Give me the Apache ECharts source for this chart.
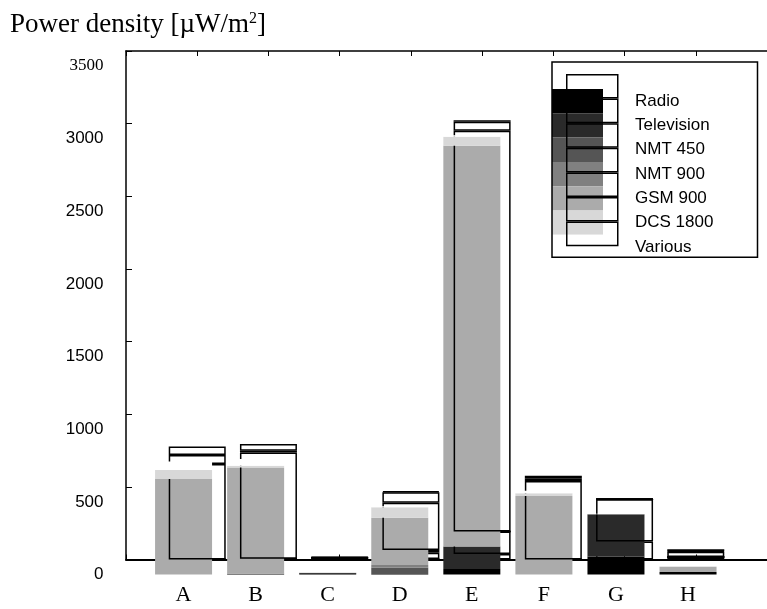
<!DOCTYPE html>
<html>
<head>
<meta charset="utf-8">
<title>Power density</title>
<script src="https://cdn.jsdelivr.net/npm/echarts@6/dist/echarts.min.js"></script>
<style>
    html, body { margin: 0; padding: 0; background: #fff; }
    #main { width: 767px; height: 609px; }
</style>
</head>
<body>
<div id="main"></div>
<script>
    // measurement sites and radio sources
    var sites = ['A', 'B', 'C', 'D', 'E', 'F', 'G', 'H'];
    var sources = ['Radio', 'Television', 'NMT 450', 'NMT 900', 'GSM 900', 'DCS 1800', 'Various'];
    var shades = ['#000000', '#2a2a2a', '#555555', '#808080', '#ababab', '#d8d8d8', '#ffffff'];

    // power density per source, one value per site A..H  [µW/m2]
    var radio      = [0,   5,   8, 3,   38,   0,   124, 17];
    var television = [0,   0,   2, 0,   154,  0,   290, 0];
    var nmt450     = [0,   0,   0, 44,  0,    0,   0,   0];
    var nmt900     = [0,   0,   0, 18,  0,    0,   0,   0];
    var gsm900     = [657, 732, 4, 326, 2759, 541, 0,   36];
    var dcs1800    = [62,  12,  0, 72,  62,   18,  0,   3];
    var various    = [59,  46,  4, 7,   11,   17,  5,   14];

    var yMax = 3500, yStep = 500;

    var values = [radio, television, nmt450, nmt900, gsm900, dcs1800, various];
    // empty slot before A and after H
    var cats = [''].concat(sites).concat(['']);

    var chart = echarts.init(document.getElementById('main'));

    var series = [];
    sources.forEach(function (name, i) {
        var d = ['-'].concat(values[i]).concat(['-']);
        // filled block (shifted layer)
        series.push({
            name: name,
            type: 'bar',
            stack: 'fill',
            xAxisIndex: 2,
            yAxisIndex: 1,
            barWidth: 57,
            z: 2 * i + 2,
            itemStyle: { color: shades[i] },
            emphasis: { disabled: true },
            data: d
        });
        // outlined block (frame layer)
        series.push({
            name: name + ' ',
            type: 'bar',
            stack: 'outline',
            xAxisIndex: 0,
            yAxisIndex: 0,
            barWidth: 57,
            z: 2 * i + 3,
            itemStyle: { color: 'rgba(0,0,0,0)', borderColor: '#000', borderWidth: 1.5 },
            emphasis: { disabled: true },
            data: d
        });
    });

    var option = {
        animation: false,
        title: {
            text: 'Power density [µW/m{sup|2}]',
            left: 10,
            top: 11,
            padding: 0,
            textStyle: {
                fontFamily: 'Liberation Serif', fontSize: 27, fontWeight: 'normal', color: '#000',
                rich: { sup: { fontFamily: 'Liberation Serif', fontSize: 16, color: '#000', verticalAlign: 'top', padding: [0, 0, 12, 0] } }
            }
        },
        legend: [{
            data: sources,
            orient: 'vertical',
            left: 552,
            top: 89,
            padding: 0,
            itemGap: 0,
            itemWidth: 51,
            itemHeight: 24.3,
            icon: 'rect',
            selectedMode: false,
            z: 4,
            textStyle: { fontFamily: 'Liberation Sans', fontSize: 17, color: '#000', padding: [0, 0, 0, 27] }
        }, {
            data: sources.map(function (n) { return n + ' '; }),
            orient: 'vertical',
            left: 552,
            top: 62,
            padding: [12, 139, 11, 14],
            itemGap: 0,
            itemWidth: 51,
            itemHeight: 23.1,
            icon: 'rect',
            selectedMode: false,
            z: 5,
            borderColor: '#000',
            borderWidth: 1.5,
            formatter: function () { return ''; },
            itemStyle: { color: 'rgba(0,0,0,0)', borderColor: '#000', borderWidth: 1.5 }
        }],
        grid: [
            { left: 126, top: 51, width: 648.6, height: 508.5 },
            { left: 111.5, top: 66, width: 648.6, height: 508.5 }
        ],
        xAxis: [{
            type: 'category', gridIndex: 0, data: cats, boundaryGap: false,
            axisLine: { onZero: false, lineStyle: { color: '#000', width: 2 } },
            axisTick: { inside: true, length: 5, lineStyle: { color: '#000' } },
            axisLabel: { show: false }
        }, {
            type: 'category', gridIndex: 0, data: cats, boundaryGap: false, position: 'top',
            axisLine: { onZero: false, lineStyle: { color: '#000', width: 1.5 } },
            axisTick: { inside: true, length: 5, lineStyle: { color: '#000' } },
            axisLabel: { show: false }
        }, {
            type: 'category', gridIndex: 1, data: cats, boundaryGap: false,
            axisLine: { show: false },
            axisTick: { show: false },
            axisLabel: { margin: 10, fontFamily: 'Liberation Serif', fontSize: 22, color: '#000' }
        }],
        yAxis: [{
            type: 'value', gridIndex: 0, min: 0, max: yMax, interval: yStep,
            axisLine: { show: true, lineStyle: { color: '#000', width: 1.5 } },
            axisTick: { show: true, inside: true, length: 6, lineStyle: { color: '#000' } },
            axisLabel: { show: false },
            splitLine: { show: false }
        }, {
            type: 'value', gridIndex: 1, min: 0, max: yMax, interval: yStep,
            axisLine: { show: false },
            axisTick: { show: false },
            splitLine: { show: false },
            axisLabel: {
                margin: 8, fontFamily: 'Liberation Sans', fontSize: 17, color: '#000',
                formatter: function (v) { return v === yMax ? '{s|' + v + '}' : '' + v; },
                rich: { s: { fontFamily: 'Liberation Serif', fontSize: 17, color: '#000' } }
            }
        }],
        series: series
    };

    chart.setOption(option);
</script>
</body>
</html>
